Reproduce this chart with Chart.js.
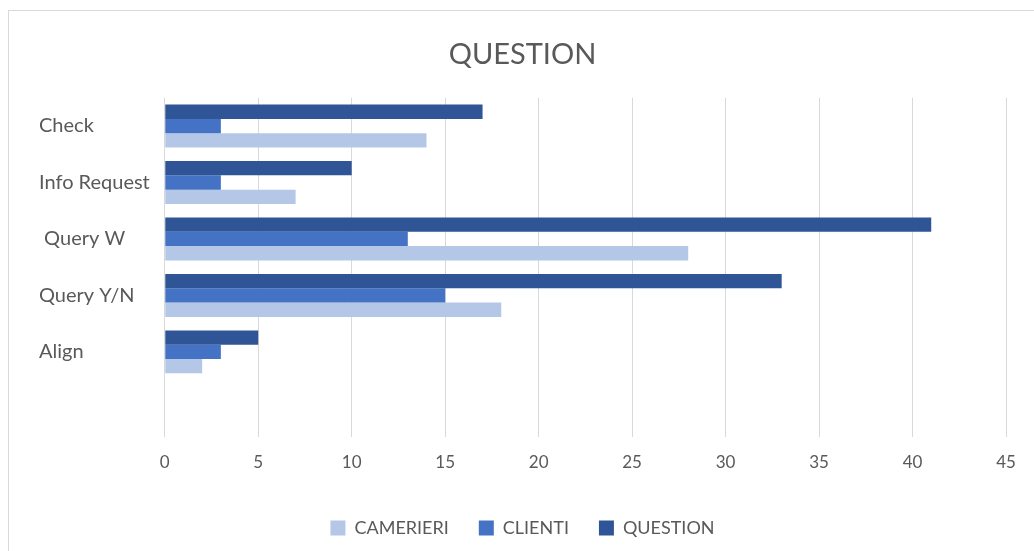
<!DOCTYPE html>
<html>
<head>
<meta charset="utf-8">
<script src="https://cdn.jsdelivr.net/npm/chart.js@4/dist/chart.umd.min.js"></script>
<style>
  html, body { margin: 0; padding: 0; background: #ffffff; overflow: hidden; }
  #frame {
    position: absolute;
    left: 8px;
    top: 10px;
    width: 1046px;
    height: 544px;
    border: 1px solid #d9d9d9;
    box-sizing: border-box;
  }
  #chart { display: block; }
</style>
</head>
<body>
<div id="frame"><canvas id="chart" width="1044" height="542"></canvas></div>
<script>
// Categories (last slot is left empty, as in the source workbook)
const categories = ["Check", "Info Request", " Query W", "Query Y/N", "Align", ""];

// Series values per category
const questionValues = [17, 10, 41, 33, 5, null];
const clientiValues = [3, 3, 13, 15, 3, null];
const camerieriValues = [14, 7, 28, 18, 2, null];

const xTicks = [0, 5, 10, 15, 20, 25, 30, 35, 40, 45];

const colors = {
  question: "#2f5597",
  clienti: "#4472c4",
  camerieri: "#b4c7e7",
  text: "#595959",
  grid: "#d9d9d9",
};

const fontFamily = "Lato, 'Open Sans', sans-serif";

const ctx = document.getElementById("chart").getContext("2d");

new Chart(ctx, {
  type: "bar",
  data: {
    labels: categories,
    datasets: [
      {
        label: "QUESTION",
        data: questionValues,
        backgroundColor: colors.question,
      },
      {
        label: "CLIENTI",
        data: clientiValues,
        backgroundColor: colors.clienti,
      },
      {
        label: "CAMERIERI",
        data: camerieriValues,
        backgroundColor: colors.camerieri,
      },
    ],
  },
  options: {
    indexAxis: "y",
    responsive: false,
    animation: false,
    categoryPercentage: 0.76,
    barPercentage: 1.0,
    layout: {
      padding: { left: 30, right: 47, top: 10, bottom: 6 },
    },
    plugins: {
      title: {
        display: true,
        text: "QUESTION",
        color: colors.text,
        font: { family: fontFamily, size: 29, weight: "normal" },
        padding: { top: 16, bottom: 26 },
      },
      legend: {
        display: true,
        position: "bottom",
        reverse: true,
        labels: {
          color: colors.text,
          font: { family: fontFamily, size: 18 },
          boxWidth: 15,
          boxHeight: 15,
          padding: 30,
        },
      },
      tooltip: { enabled: false },
    },
    scales: {
      x: {
        min: 0,
        max: 45,
        afterBuildTicks: (scale) => {
          scale.ticks = xTicks.map((v) => ({ value: v }));
        },
        grid: {
          color: colors.grid,
          drawTicks: false,
        },
        border: { display: false },
        ticks: {
          color: colors.text,
          font: { family: fontFamily, size: 17 },
          padding: 16,
        },
      },
      y: {
        grid: { display: false, drawTicks: false },
        border: { display: false },
        ticks: {
          color: colors.text,
          crossAlign: "far",
          font: { family: fontFamily, size: 20 },
          padding: 7.5,
        },
      },
    },
  },
});
</script>
</body>
</html>
